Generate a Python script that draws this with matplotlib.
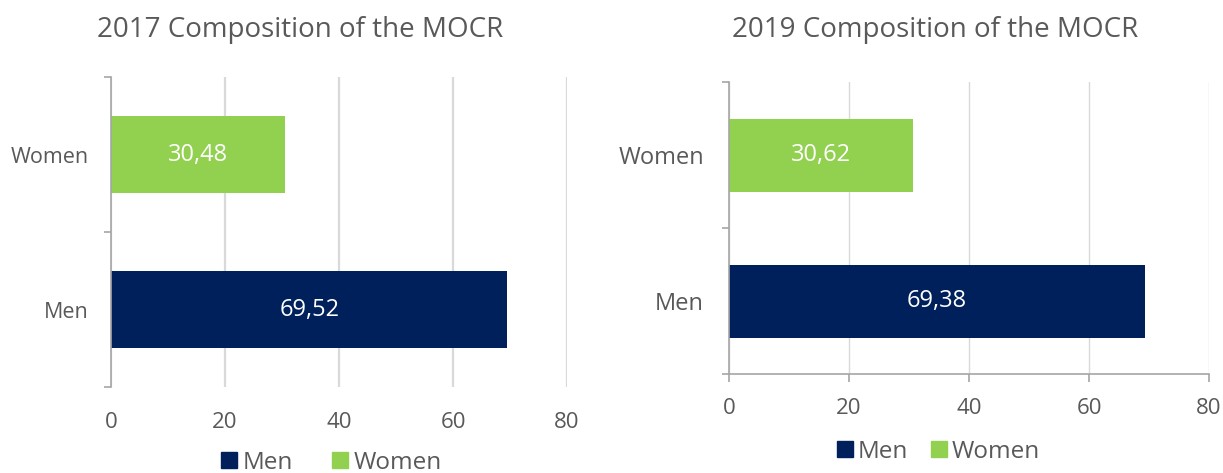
import matplotlib
matplotlib.use("Agg")
import matplotlib.pyplot as plt
from matplotlib.lines import Line2D
from matplotlib.ticker import FixedLocator

plt.rcParams['font.family'] = ['Open Sans', 'DejaVu Sans']

categories = ["Men", "Women"]
values_2017 = [69.52, 30.48]
values_2019 = [69.38, 30.62]
labels_2017 = ["69,52", "30,48"]
labels_2019 = ["69,38", "30,62"]
titles = ["2017 Composition of the MOCR", "2019 Composition of the MOCR"]
xticks = [0, 20, 40, 60, 80]

colors = ["#00205b", "#92d050"]
text_gray = "#595959"
spine_gray = "#a6a6a6"
grid_gray = "#d9d9d9"

W, H = 1223, 473
fig = plt.figure(figsize=(W / 100, H / 100), dpi=100)

def ax_rect(x0, x1, y0, y1):
    return [x0 / W, 1 - y1 / H, (x1 - x0) / W, (y1 - y0) / H]

ax1 = fig.add_axes(ax_rect(111, 567, 77, 387))
ax2 = fig.add_axes(ax_rect(729, 1209, 82, 374))

def draw(ax, vals, labs, title, fs_ytick, fs_xtick, fs_bar, bottom_spine, title_x, grid_lw, ypad):
    y = list(range(len(categories)))
    ax.barh(y, vals, height=0.5, color=colors, zorder=3)
    for yi, v, lab in zip(y, vals, labs):
        ax.text(v / 2, yi, lab, ha="center", va="center", color="white",
                fontsize=fs_bar, zorder=4)
    ax.set_xlim(0, 80)
    ax.set_ylim(-0.5, 1.5)
    ax.set_xticks(xticks)
    ax.set_yticks(y)
    ax.set_yticklabels(categories)
    ax.yaxis.set_minor_locator(FixedLocator([-0.5, 0.5, 1.5]))
    ax.tick_params(axis="y", which="major", length=0, pad=ypad, labelsize=fs_ytick, labelcolor=text_gray)
    ax.tick_params(axis="y", which="minor", length=5, color=spine_gray, width=1.2)
    ax.grid(axis="x", color=grid_gray, linewidth=grid_lw, zorder=0)
    for s in ["top", "right"]:
        ax.spines[s].set_visible(False)
    ax.spines["left"].set_color(spine_gray)
    ax.spines["left"].set_linewidth(1.2)
    ax.spines["left"].set_zorder(5)
    if bottom_spine:
        ax.spines["bottom"].set_color(spine_gray)
        ax.spines["bottom"].set_linewidth(1.2)
        ax.tick_params(axis="x", length=6, color=spine_gray, width=1.2, pad=11,
                       labelsize=fs_xtick, labelcolor=text_gray)
    else:
        ax.spines["bottom"].set_visible(False)
        ax.tick_params(axis="x", length=0, pad=18, labelsize=fs_xtick, labelcolor=text_gray)
    fig.text(title_x / W, 1 - 30 / H, title, ha="center", va="center",
             fontsize=20, color=text_gray)
    handles = [Line2D([], [], marker="s", linestyle="none", markersize=11,
                      markerfacecolor=c, markeredgecolor=c) for c in colors]
    return handles

h1 = draw(ax1, values_2017, labels_2017, titles[0], 15.5, 16, 17, False, 300, 1.6, 16)
h2 = draw(ax2, values_2019, labels_2019, titles[1], 17, 16, 17, True, 935, 1.0, 18)

fig.legend(h1, categories, loc="center", bbox_to_anchor=(330 / W, 1 - 463 / H),
           ncol=2, frameon=False, fontsize=17.5, labelcolor=text_gray,
           handletextpad=0.1, columnspacing=1.5, handlelength=0.9)
fig.legend(h2, categories, loc="center", bbox_to_anchor=(937 / W, 1 - 452 / H),
           ncol=2, frameon=False, fontsize=17.5, labelcolor=text_gray,
           handletextpad=0.1, columnspacing=0.8, handlelength=0.9)

fig.savefig("out.png", dpi=100)
